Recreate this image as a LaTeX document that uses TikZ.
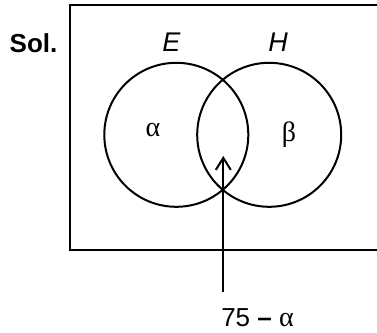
\documentclass[tikz,border=0pt]{standalone}
\usepackage{fontspec}
\setmainfont{Liberation Sans}
\newfontfamily\grk{Liberation Serif}
\usetikzlibrary{arrows.meta}
\tikzset{
  setc/.style={draw, circle, line width=2pt, minimum size=144pt, inner sep=0pt},
  lab/.style={inner sep=0pt, anchor=base, font=\fontsize{27}{27}\selectfont\itshape},
  greek/.style={inner sep=0pt, anchor=base, font=\fontsize{28}{28}\selectfont\grk},
}
\begin{document}
\begin{tikzpicture}[x=1pt,y=-1pt]
\useasboundingbox (0,0) rectangle (377,332);
\fill[white] (0,0) rectangle (377,332);
\clip (0,0) rectangle (377,332);
\draw[line width=2.6pt] (70,5) rectangle (400,250);
\node[inner sep=0pt, anchor=base, font=\fontsize{26}{26}\selectfont\bfseries] (sol) at (33.5,52.5) {Sol.};
\node[setc] (E) at (176.3,134.8) {};
\node[setc] (H) at (269.2,134.8) {};
\node[lab] (lE) at (171.5,51.7) {E};
\node[lab] (lH) at (278,51.7) {H};
\node[greek] (a) at (153,136) {α};
\node[greek] (b) at (289,141) {β};
\node[inner sep=0pt, anchor=base, font=\fontsize{26}{26}\selectfont] (t) at (257.5,326) {75 \textbf{–} {\fontsize{28}{28}\selectfont\grk α}};
\coordinate (tip) at (223.3,156);
\coordinate (tail) at (223.3,292);
\draw[line width=2pt, -{Straight Barb[length=12pt,width=15pt,line width=2pt]}] (tail) -- (tip);
\end{tikzpicture}
\end{document}
